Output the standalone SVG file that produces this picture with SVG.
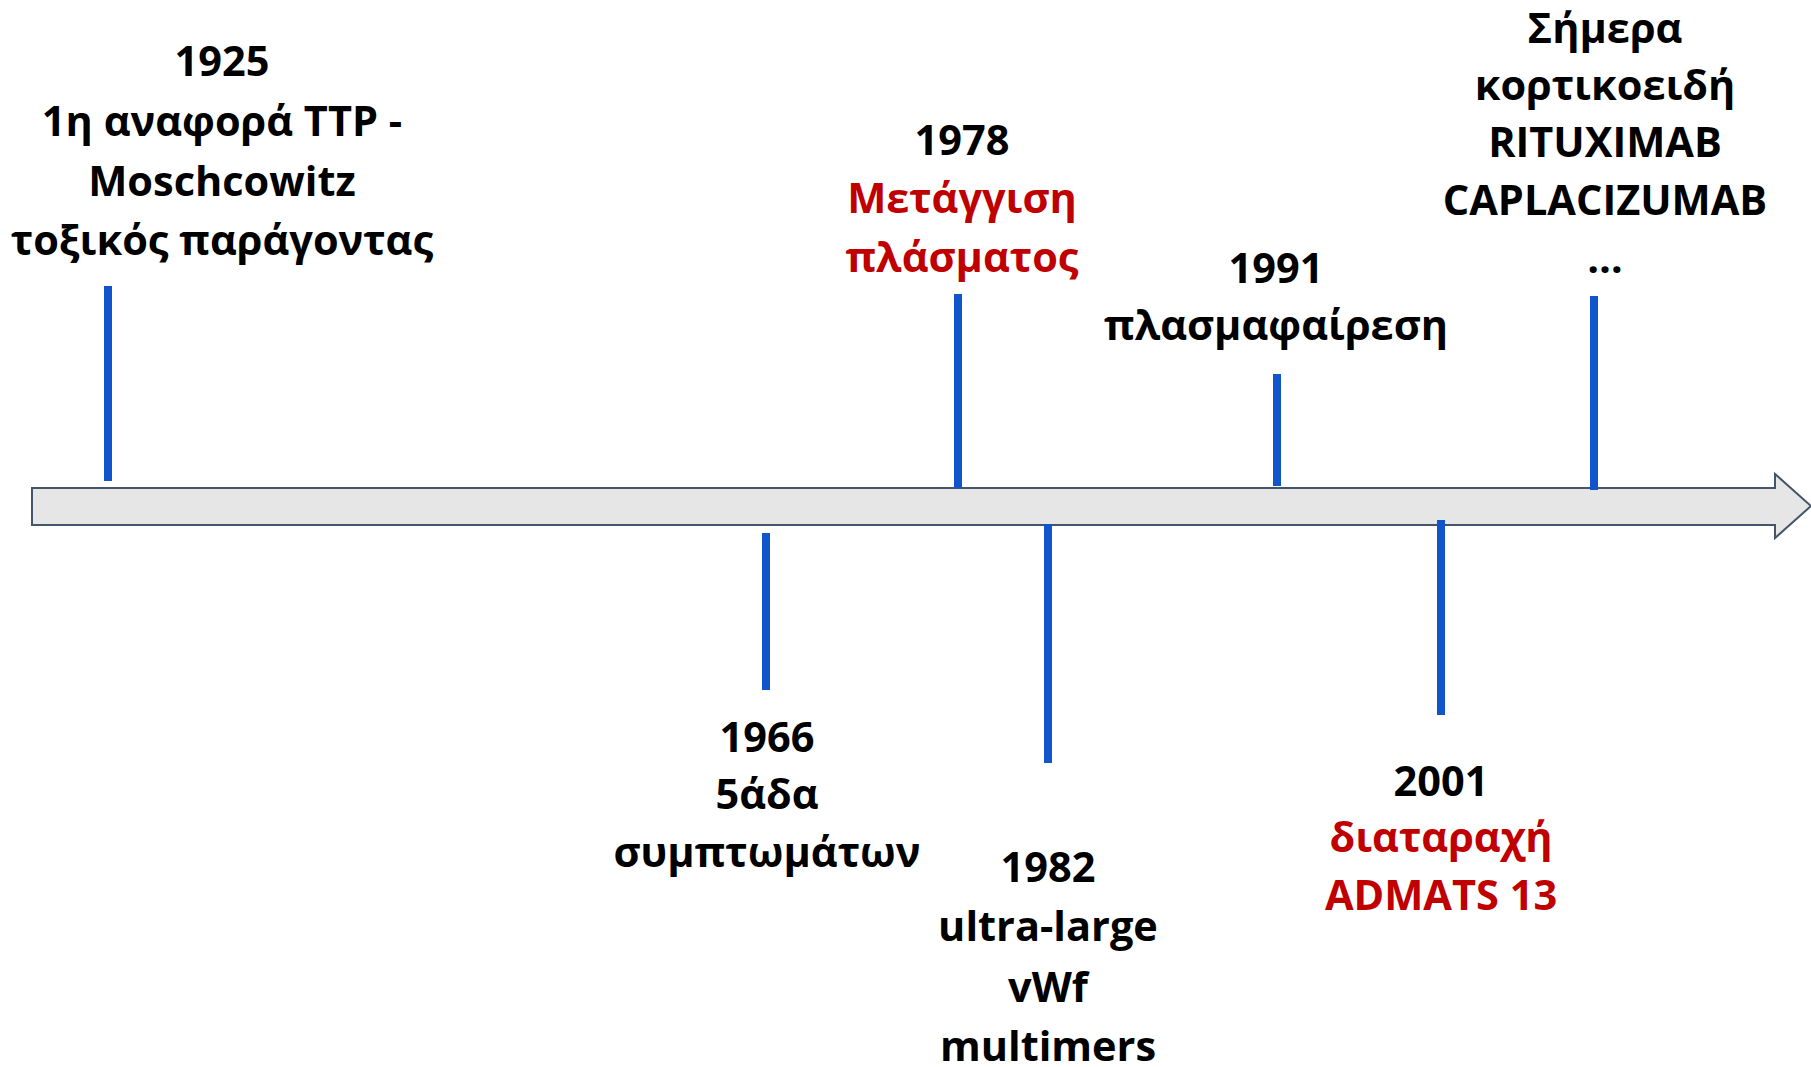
<svg xmlns="http://www.w3.org/2000/svg" width="1811" height="1067" viewBox="0 0 1811 1067">
<style>
text{font-family:"Open Sans","Noto Sans","Liberation Sans",sans-serif;font-weight:700;font-size:41.5px;text-anchor:middle;fill:#000}
.red{fill:#C00000}
.tick{stroke:#1155CC;stroke-width:8;fill:none}
.axis{fill:#E6E6E6;stroke:#44546A;stroke-width:2}
</style>
<rect width="1811" height="1067" fill="#fff"/>
<g id="axis">
<polygon class="axis" points="32,488 1775,488 1775,474 1811,506 1775,538 1775,525 32,525"/>
</g>
<g id="connectors">
<line class="tick" x1="108" y1="286" x2="108" y2="481"/>
<line class="tick" x1="766" y1="533" x2="766" y2="690"/>
<line class="tick" x1="958" y1="294" x2="958" y2="488"/>
<line class="tick" x1="1048" y1="524" x2="1048" y2="763"/>
<line class="tick" x1="1277" y1="374" x2="1277" y2="486"/>
<line class="tick" x1="1441" y1="520" x2="1441" y2="715"/>
<line class="tick" x1="1594" y1="296" x2="1594" y2="490"/>
</g>
<g id="e1925">
<text x="222" y="76">1925</text>
<text x="222" y="136">1η αναφορά TTP -</text>
<text x="222" y="196">Moschcowitz</text>
<text x="222" y="255">τοξικός παράγοντας</text>
</g>
<g id="e1966">
<text x="767" y="752">1966</text>
<text x="767" y="809">5άδα</text>
<text x="767" y="867">συμπτωμάτων</text>
</g>
<g id="e1978">
<text x="962" y="155">1978</text>
<text class="red" x="962" y="213">Μετάγγιση</text>
<text class="red" x="962" y="272">πλάσματος</text>
</g>
<g id="e1982">
<text x="1048" y="882">1982</text>
<text x="1048" y="941">ultra-large</text>
<text x="1048" y="1002">vWf</text>
<text x="1048" y="1061">multimers</text>
</g>
<g id="e1991">
<text x="1276" y="283">1991</text>
<text x="1276" y="340">πλασμαφαίρεση</text>
</g>
<g id="e2001">
<text x="1441" y="796">2001</text>
<text class="red" x="1441" y="852">διαταραχή</text>
<text class="red" x="1441" y="910">ADMATS 13</text>
</g>
<g id="today">
<text x="1605" y="43">Σήμερα</text>
<text x="1605" y="100">κορτικοειδή</text>
<text x="1605" y="157">RITUXIMAB</text>
<text x="1605" y="215">CAPLACIZUMAB</text>
<text x="1605" y="273">…</text>
</g>
</svg>
